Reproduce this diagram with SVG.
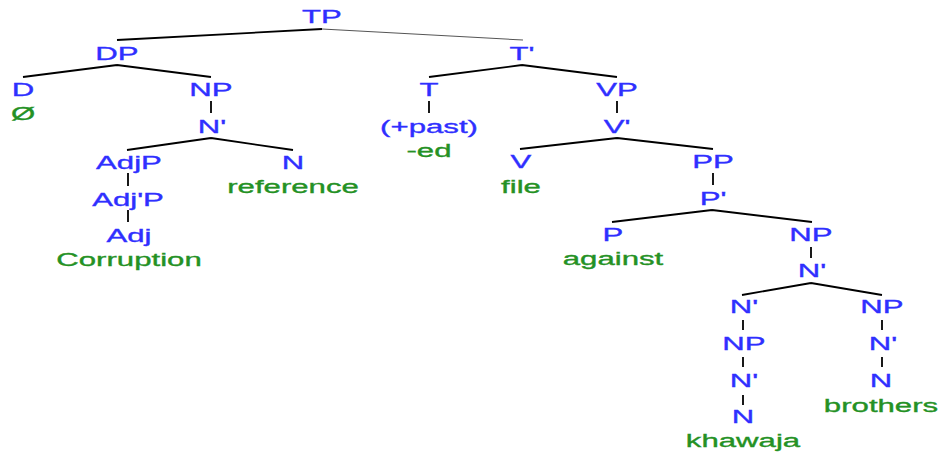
<svg xmlns="http://www.w3.org/2000/svg" width="940" height="453" viewBox="0 0 940 453">
<style>
text{font-family:"Liberation Sans",Arial,sans-serif;font-size:19px;text-anchor:middle;stroke-width:0.35}
.c{fill:#2f2fff;stroke:#2f2fff}
.w{fill:#249124;stroke:#249124}
.e{stroke:#000;stroke-width:1.8;fill:none}
.g{stroke:#555;stroke-width:1.1;fill:none}
</style>
<rect width="940" height="453" fill="#fff"/>
<g id="connectors">
<path class="e" d="M322 29L117 40"/>
<path class="g" d="M322 29L523 40"/>
<path class="e" d="M117 65L23 77M117 65L211 77"/>
<path class="e" d="M211 101V113"/>
<path class="e" d="M211 138L127 150M211 138L293 150"/>
<path class="e" d="M128 173V186M128 210V222"/>
<path class="e" d="M522 65L429 77M522 65L617 77"/>
<path class="e" d="M429 101V113"/>
<path class="e" d="M617 101V113"/>
<path class="e" d="M617 138L520 149M617 138L713 149"/>
<path class="e" d="M713 173V185"/>
<path class="e" d="M712 210L612 222M712 210L812 222"/>
<path class="e" d="M811 247V258"/>
<path class="e" d="M811 283L742 295M811 283L882 295"/>
<path class="e" d="M743 320V330M743 357V367M743 395V405"/>
<path class="e" d="M882 320V330M882 357V367"/>
</g>
<g id="n-TP" transform="translate(322 0) scale(1.64 1)"><text class="c" y="23">TP</text></g>
<g id="n-DP" transform="translate(117 0) scale(1.64 1)"><text class="c" y="60">DP</text></g>
<g id="n-D" transform="translate(23 0) scale(1.64 1)"><text class="c" y="96">D</text><text class="w" y="120">Ø</text></g>
<g id="n-NP1" transform="translate(211 0) scale(1.64 1)"><text class="c" y="96">NP</text></g>
<g id="n-N1bar" transform="translate(212 0) scale(1.64 1)"><text class="c" y="133">N'</text></g>
<g id="n-AdjP" transform="translate(129 0) scale(1.64 1)"><text class="c" y="169">AdjP</text></g>
<g id="n-AdjbarP" transform="translate(128 0) scale(1.64 1)"><text class="c" y="206">Adj'P</text></g>
<g id="n-Adj" transform="translate(129 0) scale(1.64 1)"><text class="c" y="242">Adj</text><text class="w" y="266">Corruption</text></g>
<g id="n-N1" transform="translate(293 0) scale(1.64 1)"><text class="c" y="169">N</text><text class="w" y="193">reference</text></g>
<g id="n-Tbar" transform="translate(522 0) scale(1.64 1)"><text class="c" y="60">T'</text></g>
<g id="n-T" transform="translate(429 0) scale(1.64 1)"><text class="c" y="96">T</text><text class="c" y="133">(+past)</text><text class="w" y="157">-ed</text></g>
<g id="n-VP" transform="translate(617 0) scale(1.64 1)"><text class="c" y="96">VP</text></g>
<g id="n-Vbar" transform="translate(617 0) scale(1.64 1)"><text class="c" y="133">V'</text></g>
<g id="n-V" transform="translate(521 0) scale(1.64 1)"><text class="c" y="168">V</text><text class="w" y="193">file</text></g>
<g id="n-PP" transform="translate(713 0) scale(1.64 1)"><text class="c" y="168">PP</text></g>
<g id="n-Pbar" transform="translate(713 0) scale(1.64 1)"><text class="c" y="205">P'</text></g>
<g id="n-P" transform="translate(613 0) scale(1.64 1)"><text class="c" y="241">P</text><text class="w" y="265">against</text></g>
<g id="n-NP2" transform="translate(811 0) scale(1.64 1)"><text class="c" y="241">NP</text></g>
<g id="n-N2bar" transform="translate(812 0) scale(1.64 1)"><text class="c" y="277">N'</text></g>
<g id="n-N3bar" transform="translate(744 0) scale(1.64 1)"><text class="c" y="313">N'</text></g>
<g id="n-NP3" transform="translate(744 0) scale(1.64 1)"><text class="c" y="350">NP</text></g>
<g id="n-N4bar" transform="translate(744 0) scale(1.64 1)"><text class="c" y="387">N'</text></g>
<g id="n-N4" transform="translate(743 0) scale(1.64 1)"><text class="c" y="423">N</text><text class="w" y="447">khawaja</text></g>
<g id="n-NP4" transform="translate(882 0) scale(1.64 1)"><text class="c" y="313">NP</text></g>
<g id="n-N5bar" transform="translate(883 0) scale(1.64 1)"><text class="c" y="350">N'</text></g>
<g id="n-N5" transform="translate(881 0) scale(1.64 1)"><text class="c" y="387">N</text><text class="w" y="412">brothers</text></g>
</svg>
